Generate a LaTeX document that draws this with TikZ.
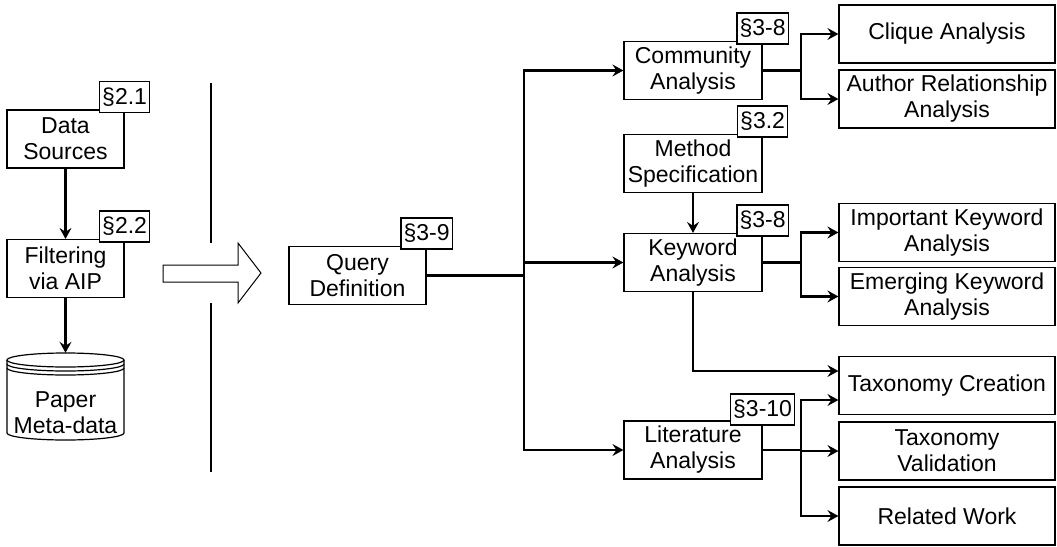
\documentclass[tikz,border=0pt]{standalone}
\usepackage{fontspec}
\setmainfont{Liberation Sans}
\usetikzlibrary{arrows.meta}
\begin{document}
\begin{tikzpicture}[x=1pt,y=-1pt,font=\fontsize{23}{26}\selectfont,
		box/.style={draw,line width=1.2pt,align=center,inner sep=0pt,minimum height=58pt},
		tag/.style={draw,fill=white,line width=1.2pt,inner sep=2.5pt,minimum height=31pt},
		conn/.style={line width=2.2pt},
		arr/.style={conn,-{Stealth[length=11pt,width=12pt,inset=4pt]}}]
		\useasboundingbox (0,0) rectangle (1057,546);
		\node[box,minimum width=117pt] (ds) at (65.5,139) {Data\\Sources};
		\node[box,minimum width=117pt] (flt) at (65.5,268.5) {Filtering\\via AIP};
		\node[minimum width=117pt,minimum height=87pt,inner sep=0pt] (db) at (65.5,396.5) {};
		\draw[line width=1.2pt] (7,360)--(7,433) arc[start angle=180,end angle=0,x radius=58.5,y radius=7]--(124,360);
		\draw[line width=1.2pt] (65.5,360) ellipse[x radius=58.5,y radius=7];
		\draw[line width=1.2pt] (7,364) arc[start angle=180,end angle=0,x radius=58.5,y radius=7];
		\draw[line width=1.2pt] (7,368) arc[start angle=180,end angle=0,x radius=58.5,y radius=7];
		\node[align=center] (dbtxt) at (65.5,413) {Paper\\Meta-data};
		\node[tag] (t21) at ([yshift=12.5pt]ds.north east) {§2.1};
		\node[tag] (t22) at ([yshift=12.5pt]flt.north east) {§2.2};
		\draw[arr] (ds)--(flt);
		\draw[arr] (flt)--(db);
		\draw[line width=2.2pt] (211,83)--(211,243) (211,303)--(211,472);
		\draw[line width=1pt] (163,265)--(238,265)--(238,243)--(261,273)--(238,303)--(238,282)--(163,282)--cycle;
		\node[box,minimum width=137pt] (qry) at (357.5,275.5) {Query\\Definition};
		\node[tag] (t39) at ([yshift=12.5pt]qry.north east) {§3-9};
		\node[box,minimum width=138pt] (com) at (693,70.5) {Community\\Analysis};
		\node[box,minimum width=138pt] (met) at (693,163.5) {Method\\Specification};
		\node[box,minimum width=138pt] (kw) at (693,262.5) {Keyword\\Analysis};
		\node[box,minimum width=138pt] (lit) at (693,450) {Literature\\Analysis};
		\node[tag] (t38a) at ([yshift=12.5pt]com.north east) {§3-8};
		\node[tag] (t32) at ([yshift=12.5pt]met.north east) {§3.2};
		\node[tag] (t38b) at ([yshift=12.5pt]kw.north east) {§3-8};
		\node[tag] (t310) at ([yshift=11pt]lit.north east) {§3-10};
		\node[box,minimum width=216pt] (clq) at (947,34) {Clique Analysis};
		\node[box,minimum width=216pt] (aut) at (947,99) {Author Relationship\\Analysis};
		\node[box,minimum width=216pt] (imp) at (947,232.5) {Important Keyword\\Analysis};
		\node[box,minimum width=216pt] (emg) at (947,296.5) {Emerging Keyword\\Analysis};
		\node[box,minimum width=216pt] (txc) at (947,385.5) {Taxonomy Creation};
		\node[box,minimum width=216pt] (txv) at (947,451) {Taxonomy\\Validation};
		\node[box,minimum width=216pt] (rel) at (947,516) {Related Work};
		\coordinate (fork) at (524,275.5);
		\draw[conn] (qry)--(fork);
		\draw[arr] (fork)|-(com);
		\draw[arr] (fork)|-(kw);
		\draw[arr] (fork)|-(lit);
		\draw[arr] (com.east)--++(38,0)|-(clq);
		\draw[arr] (com.east)--++(38,0)|-(aut);
		\draw[arr] (met)--(kw);
		\draw[arr] (kw.east)--++(38,0)|-(imp);
		\draw[arr] (kw.east)--++(38,0)|-(emg);
		\draw[arr] (kw)|-([yshift=14.5pt]txc.west);
		\draw[arr] (lit.east)--++(38,0)|-([yshift=-14.5pt]txc.west);
		\draw[arr] (lit.east)--++(38,0)|-(txv);
		\draw[arr] (lit.east)--++(38,0)|-(rel);
	\end{tikzpicture}
\end{document}
